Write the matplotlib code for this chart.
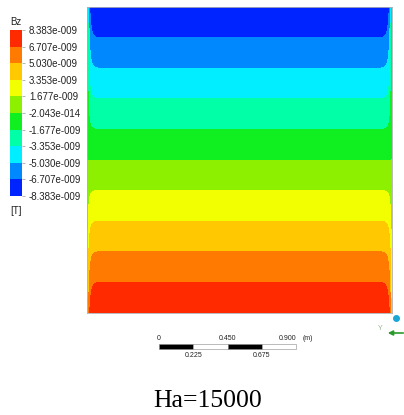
import numpy as np
import matplotlib
matplotlib.use("Agg")
import matplotlib.pyplot as plt
from matplotlib.colors import ListedColormap, BoundaryNorm
import matplotlib.colorbar as mcolorbar

# contour levels of Bz [T], as shown on the legend
levels = [-8.383e-9, -6.707e-9, -5.030e-9, -3.353e-9, -1.677e-9, -2.043e-14,
          1.677e-9, 3.353e-9, 5.030e-9, 6.707e-9, 8.383e-9]
level_labels = ["-8.383e-009", "-6.707e-009", "-5.030e-009", "-3.353e-009",
                "-1.677e-009", "-2.043e-014", "1.677e-009", "3.353e-009",
                "5.030e-009", "6.707e-009", "8.383e-009"]
band_colors = ["#0024ff", "#0088ff", "#00eeff", "#00ffa6", "#10f020",
               "#8cf000", "#f2ff00", "#ffc800", "#ff7a00", "#ff2a00"]

# scale bar ticks (m)
scale_top = [0.0, 0.450, 0.900]
scale_bottom = [0.225, 0.675]
title = "Ha=15000"

# channel cross-section (m), Hartmann layer thickness at the side walls
half_width = 1.0
layer = 0.011

W, H = 404, 415
fig = plt.figure(figsize=(W / 100, H / 100), dpi=100)

def px_axes(x0, y0, x1, y1):
    return fig.add_axes([x0 / W, 1 - y1 / H, (x1 - x0) / W, (y1 - y0) / H])

# induced field: linear across the channel, damped to zero at the side walls
x = np.linspace(-half_width, half_width, 800)
y = np.linspace(-half_width, half_width, 600)
X, Y = np.meshgrid(x, y)
d = half_width - np.abs(X)
Bz = -levels[-1] * (Y / half_width) * (1 - np.exp(-d / layer)) * 0.9999

ax = px_axes(87, 7, 392, 313)
cmap = ListedColormap(band_colors)
ax.contourf(X, Y, Bz, levels=levels, colors=band_colors)
ax.set_xlim(-half_width, half_width)
ax.set_ylim(-half_width, half_width)
ax.set_xticks([])
ax.set_yticks([])
for s in ax.spines.values():
    s.set_color("#b0b0b0")
    s.set_linewidth(0.6)

# legend
cax = px_axes(10, 30, 22, 196)
norm = BoundaryNorm(levels, cmap.N)
cb = mcolorbar.ColorbarBase(cax, cmap=cmap, norm=norm, boundaries=levels,
                            ticks=levels, spacing="uniform")
cb.outline.set_visible(False)
cb.set_ticklabels(level_labels)
cax.tick_params(length=2, width=0.5, color="#999999", pad=3,
                labelsize=7, labelcolor="#222222")
for t in cax.get_yticklabels():
    t.set_family("Liberation Sans")
fig.text(10 / W, 1 - 22 / H, "Bz", fontsize=7, family="Liberation Sans",
         color="#222222", va="center", ha="left")
fig.text(10 / W, 1 - 211 / H, "[T]", fontsize=7, family="Liberation Sans",
         color="#222222", va="center", ha="left")

# scale bar, same metres-per-pixel as the plot
m_per_px = 2 * half_width / (392 - 87)
sx0 = 159
sx1 = sx0 + scale_top[-1] / m_per_px
sax = px_axes(sx0, 344, sx1, 349)
sax.set_xlim(0, scale_top[-1])
sax.set_ylim(0, 1)
sax.axis("off")
edges = sorted(scale_top + scale_bottom)
for i in range(len(edges) - 1):
    c = "black" if i % 2 == 0 else "white"
    sax.add_patch(plt.Rectangle((edges[i], 0), edges[i + 1] - edges[i], 1,
                                facecolor=c, edgecolor="#888888", lw=0.4,
                                clip_on=False))
for v in scale_top:
    lbl = "0" if v == 0 else f"{v:.3f}"
    ha = "right" if v == scale_top[-1] else "center"
    sax.text(v, 1.3, lbl, fontsize=5, ha=ha, va="bottom",
             family="Liberation Sans", color="#222222")
sax.text(scale_top[-1] + 6 * m_per_px, 1.3, "(m)", fontsize=5, ha="left",
         va="bottom", family="Liberation Sans", color="#222222")
for v in scale_bottom:
    sax.text(v, -0.6, f"{v:.3f}", fontsize=5, ha="center", va="top",
             family="Liberation Sans", color="#222222")

# axis triad
ov = fig.add_axes([0, 0, 1, 1])
ov.set_xlim(0, W)
ov.set_ylim(H, 0)
ov.axis("off")
ov.plot(396, 318, "o", color="#1aa6d6", ms=4)
ov.annotate("", xy=(385, 333), xytext=(406, 333),
            arrowprops=dict(arrowstyle="-|>", color="#2a9a2a", lw=1.2,
                            mutation_scale=7))
ov.text(380, 328, "Y", fontsize=5, color="#8fb88f", ha="center", va="center",
        family="Liberation Sans")

fig.text(208 / W, 1 - 407 / H, title, fontsize=18.5, family="Liberation Serif",
         ha="center", va="baseline", color="black")

fig.savefig("out.png", dpi=100)
